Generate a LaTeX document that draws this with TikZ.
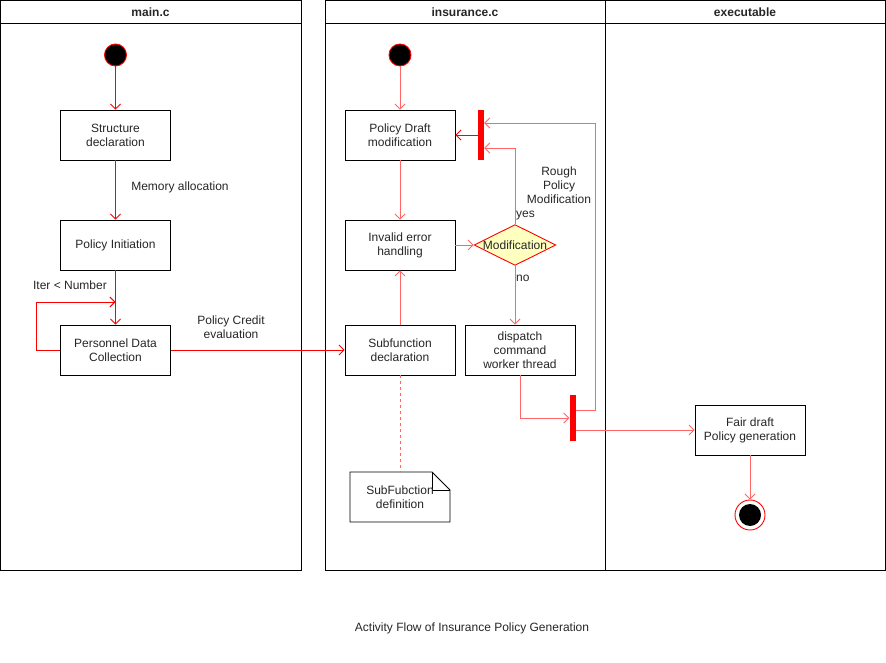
\documentclass[tikz,border=0pt]{standalone}
\usepackage{fontspec}
\setmainfont{Liberation Sans}
\usetikzlibrary{arrows.meta,shapes.geometric,shapes.misc}
\definecolor{flow}{HTML}{FF0000}
\definecolor{softflow}{HTML}{FF6666}
\definecolor{decision}{HTML}{FFFFC0}
\begin{document}
\begin{tikzpicture}[x=1pt,y=-1pt,
  every node/.style={font=\fontsize{12}{14}\selectfont, text=black!85},
  lane/.style={draw=black, line width=0.9pt},
  lanetitle/.style={font=\fontsize{12}{14}\selectfont\bfseries},
  action/.style={draw=black, line width=0.9pt, fill=white, minimum width=110pt, minimum height=50pt, align=center, inner sep=2pt},
  startdot/.style={circle, draw=flow, fill=black, minimum size=22pt, inner sep=0pt, line width=0.9pt},
  enddot/.style={circle, draw=flow, fill=white, minimum size=30pt, inner sep=0pt, line width=0.9pt},
  syncbar/.style={draw=none, fill=flow, minimum width=6pt, inner sep=0pt},
  choice/.style={diamond, aspect=2, draw=flow, fill=decision, minimum width=80pt, minimum height=40pt, inner sep=0pt, line width=0.9pt},
  arr/.style={draw=flow, line width=0.9pt, -{Straight Barb[length=5pt,width=10pt]}},
  softarr/.style={draw=softflow, line width=0.9pt, -{Straight Barb[length=5pt,width=10pt]}},
  lbl/.style={align=center, inner sep=0pt},
]
\useasboundingbox (0,0) rectangle (886,663);

% swimlanes
\draw[lane] (0.5,0.5) rectangle (301,570);
\draw[lane] (0.5,23) -- (301,23);
\node[lanetitle] (tmain) at (150.5,12) {main.c};
\draw[lane] (325,0.5) rectangle (605,570);
\draw[lane] (325,23) -- (605,23);
\node[lanetitle] (tins) at (465,12) {insurance.c};
\draw[lane] (605,0.5) rectangle (885.5,570);
\draw[lane] (605,23) -- (885.5,23);
\node[lanetitle] (texe) at (745,12) {executable};

% main.c
\node[startdot] (s1) at (115.5,55) {};
\node[action] (sd) at (115.5,135) {Structure\\declaration};
\node[action] (pi) at (115.5,245) {Policy Initiation};
\node[action] (pd) at (115.5,350) {Personnel Data\\Collection};
\coordinate (loopa) at (36,350);
\coordinate (loopb) at (36,302);
\coordinate (loopc) at (115.5,302);

\draw[arr] (s1) -- (sd);
\draw[arr] (sd) -- (pi);
\node[lbl] (memlbl) at (180,187) {Memory allocation};
\draw[arr] (pi) -- (pd);
\node[lbl] (iterlbl) at (70,285) {Iter < Number};
\draw[arr] (pd.west) -- (loopa) -- (loopb) -- (loopc);

% insurance.c
\node[startdot] (s2) at (400,55) {};
\node[action] (pdm) at (400,135) {Policy Draft\\modification};
\node[action] (ieh) at (400,245) {Invalid error\\handling};
\node[action] (sfd) at (400,350) {Subfunction\\declaration};
\node[syncbar, minimum height=50pt] (bar1) at (481,135) {};
\node[choice] (mod) at (515,245) {Modification};
\node[action] (dcw) at (520,350) {dispatch\\command\\worker thread};
\node[syncbar, minimum height=46pt] (bar2) at (572.5,418) {};

% note with folded corner
\draw[black, line width=0.9pt, fill=white]
  (350,472) -- (432,472) -- (450,490) -- (450,522) -- (350,522) -- cycle;
\draw[black, line width=0.9pt] (432,472) -- (432,490) -- (450,490);
\node[align=center, minimum width=100pt, minimum height=50pt] (note) at (400,497) {SubFubction\\definition};

\draw[arr] (pd.east) -- (sfd.west);
\node[lbl] (credlbl) at (231,327) {Policy Credit\\evaluation};

\draw[softarr] (s2) -- (pdm);
\draw[softarr] (pdm) -- (ieh);
\draw[softarr] (sfd) -- (ieh);
\draw[arr] (bar1.west) -- (pdm.east);
\draw[softarr] (ieh.east) -- (mod.west);
\coordinate (yesturn) at (515,148);
\draw[softarr] (mod.north) -- (yesturn) -- (bar1.east |- yesturn);
\node[lbl, anchor=west] (yeslbl) at (516,216) {yes};
\node[lbl] (roughlbl) at (559,185) {Rough\\Policy\\Modification};
\draw[softarr] (mod.south) -- (mod.south |- dcw.north);
\node[lbl, anchor=west] (nolbl) at (516,278) {no};
\coordinate (dcwturn) at (520,418);
\draw[softarr] (dcw.south) -- (dcwturn) -- (bar2.west);
\coordinate (backa) at (595,410);
\coordinate (backb) at (595,123);
\draw[softarr] (bar2.east |- backa) -- (backa) -- (backb) -- (bar1.east |- backb);
\draw[dashed, draw=softflow, line width=0.9pt, dash pattern=on 3pt off 3pt] (sfd.south) -- (note.north);

% executable
\node[action] (fdp) at (750,430) {Fair draft\\Policy generation};
\node[enddot] (e1) at (750,515) {};
\fill[black] (e1.center) circle (11pt);
\draw[softarr] (bar2.east |- fdp.west) -- (fdp.west);
\draw[softarr] (fdp) -- (e1);

\node[font=\fontsize{12}{14}\selectfont] (caption) at (472,628) {Activity Flow of Insurance Policy Generation};
\end{tikzpicture}
\end{document}
